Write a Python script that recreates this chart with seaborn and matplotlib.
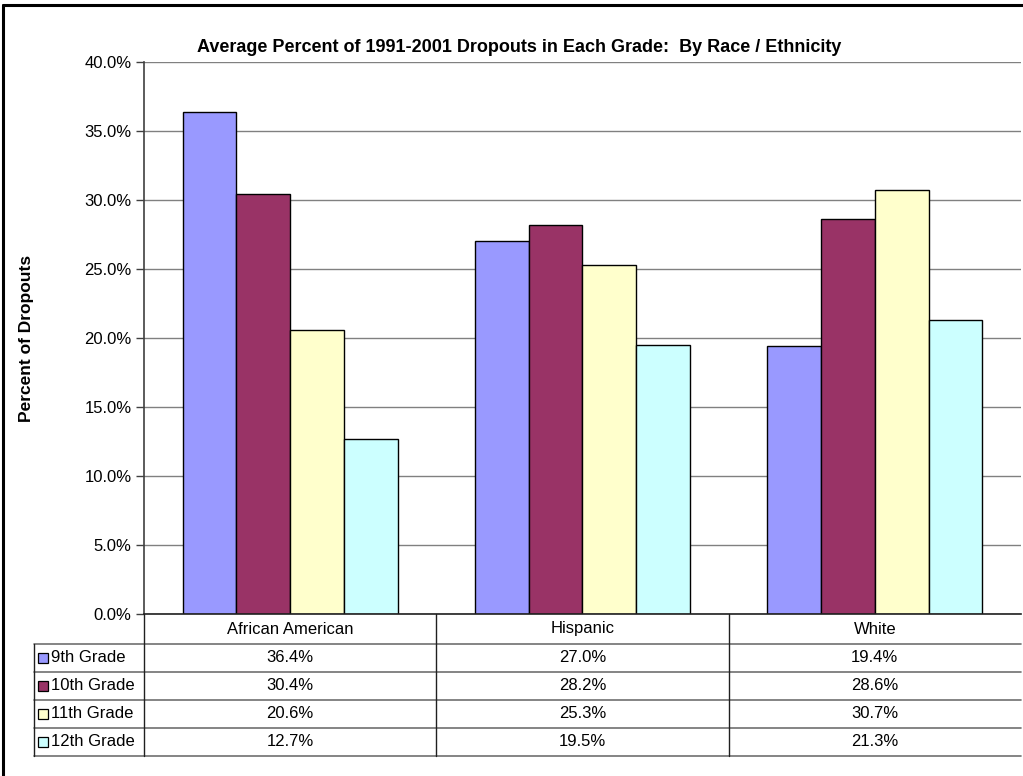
import matplotlib
matplotlib.use("Agg")
import matplotlib.pyplot as plt
from matplotlib.lines import Line2D
from matplotlib.patches import Rectangle
from matplotlib.transforms import blended_transform_factory
import pandas as pd
import seaborn as sns

# Data
groups = ["African American", "Hispanic", "White"]
grades = ["9th Grade", "10th Grade", "11th Grade", "12th Grade"]
grade9 = [36.4, 27.0, 19.4]
grade10 = [30.4, 28.2, 28.6]
grade11 = [20.6, 25.3, 30.7]
grade12 = [12.7, 19.5, 21.3]
colors = ["#9999FF", "#993366", "#FFFFCC", "#CCFFFF"]
yticks = [0, 5, 10, 15, 20, 25, 30, 35, 40]

series = [grade9, grade10, grade11, grade12]
df = pd.DataFrame(
    [(g, grade, v) for grade, vals in zip(grades, series) for g, v in zip(groups, vals)],
    columns=["group", "grade", "pct"],
)

sns.set_theme(style="white")
plt.rcParams["font.family"] = ["Liberation Sans", "DejaVu Sans"]

W, H = 1023, 776
fig = plt.figure(figsize=(W / 100, H / 100), dpi=100)
fig.patch.set_facecolor("white")


def fx(px):
    return px / W


def fy(py):
    return 1 - py / H


TXT = 12
ax_left, ax_right, ax_top, ax_bottom = 144, 1021, 62, 614
ax = fig.add_axes([fx(ax_left), fy(ax_bottom), fx(ax_right - ax_left), (ax_bottom - ax_top) / H])

sns.barplot(
    data=df, x="group", y="pct", hue="grade", hue_order=grades, order=groups,
    palette=colors, width=0.735, gap=0, edgecolor="black", linewidth=1.0,
    saturation=1, legend=False, ax=ax,
)

ax.set_xlim(-0.5, len(groups) - 0.5)
ax.set_ylim(0, 40)
ax.set_yticks(yticks)
ax.set_yticklabels([f"{t:.1f}%" for t in yticks], fontsize=TXT, color="black")
ax.set_xticks([])
ax.set_xlabel("")
ax.set_ylabel("")
ax.yaxis.grid(True, color="#808080", linewidth=1.0)
ax.set_axisbelow(True)
ax.tick_params(axis="y", which="major", direction="out", length=6, width=1,
               color="#404040", left=True, pad=3)
for side in ["top", "right"]:
    ax.spines[side].set_visible(False)
ax.spines["left"].set_color("#404040")
ax.spines["left"].set_linewidth(1.2)
ax.spines["bottom"].set_color("#202020")
ax.spines["bottom"].set_linewidth(1.2)

# Title and y-axis label
fig.text(fx(519), fy(47), "Average Percent of 1991-2001 Dropouts in Each Grade:  By Race / Ethnicity",
         ha="center", va="center", fontsize=13, fontweight="bold", color="black")
fig.text(fx(27), fy(338), "Percent of Dropouts", rotation=90, ha="center", va="center",
         fontsize=12.5, fontweight="bold", color="black")

# Data table below the plot
tr = blended_transform_factory(ax.transData, fig.transFigure)
header_bottom = 644
row_h = 28
table_left = 34
table_bottom = header_bottom + row_h * len(grades)

for i, g in enumerate(groups):
    fig.text(i, fy((ax_bottom + header_bottom) / 2), g, transform=tr,
             ha="center", va="center", fontsize=TXT, color="black")
    for r, vals in enumerate(series):
        fig.text(i, fy(header_bottom + row_h * r + row_h / 2), f"{vals[i]:.1f}%",
                 transform=tr, ha="center", va="center", fontsize=TXT, color="black")

# horizontal rules
for r in range(len(grades) + 1):
    y = fy(header_bottom + row_h * r)
    fig.add_artist(Line2D([fx(table_left), fx(ax_right)], [y, y], color="#707070", linewidth=1.2))

# vertical rules at category boundaries
for b in [-0.5, 0.5, 1.5]:
    fig.add_artist(Line2D([b, b], [fy(ax_bottom), fy(table_bottom)], transform=tr,
                          color="#202020", linewidth=1.0))
fig.add_artist(Line2D([fx(table_left), fx(table_left)], [fy(header_bottom), fy(table_bottom)],
                      color="#202020", linewidth=1.0))

# row labels with colour keys
for r, (grade, c) in enumerate(zip(grades, colors)):
    yc = header_bottom + row_h * r + row_h / 2
    fig.add_artist(Rectangle((fx(38), fy(yc + 5)), fx(10), 10 / H, facecolor=c,
                             edgecolor="black", linewidth=0.9))
    fig.text(fx(51), fy(yc), grade, ha="left", va="center", fontsize=TXT, color="black")

# outer chart frame (left and top edges)
fig.add_artist(Line2D([fx(3), fx(3)], [fy(5), 0], color="black", linewidth=2.2))
fig.add_artist(Line2D([fx(3), 1], [fy(5), fy(5)], color="black", linewidth=2.2))

fig.savefig("out.png", dpi=100, facecolor="white")
